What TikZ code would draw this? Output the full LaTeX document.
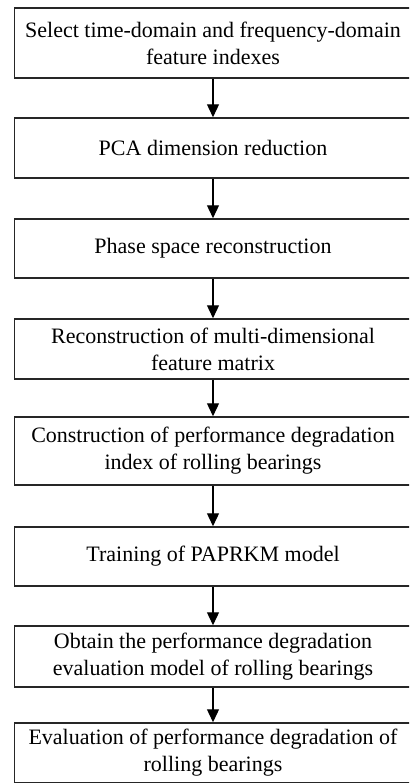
\documentclass[tikz,border=0pt]{standalone}
\usepackage{fontspec}
\setmainfont{Liberation Serif}
\usetikzlibrary{arrows.meta}

\begin{document}
\begin{tikzpicture}[x=0.5pt, y=-0.5pt, thick]
	\tikzstyle{stepbox}=[draw=black!85, line width=0.75pt, minimum width=198.5pt, inner sep=0pt, align=center, font=\fontsize{11}{13.6}\selectfont]
	\tikzstyle{flow}=[-{Triangle[length=6.5pt,width=6pt]}, line width=0.65pt, black]
	\useasboundingbox (0,0) rectangle (409,783);
	\clip (0,0) rectangle (409,783);
	
	\node[stepbox, minimum height=35pt] (Step-1) at (213,43) {Select time-domain and frequency-domain\\feature indexes};
	\node[stepbox, minimum height=30pt] (Step-2) at (213,148) {PCA dimension reduction};
	\node[stepbox, minimum height=29.5pt] (Step-3) at (213,248.5) {Phase space reconstruction};
	\node[stepbox, minimum height=30pt] (Step-4) at (213,349) {Reconstruction of multi-dimensional\\feature matrix};
	\node[stepbox, minimum height=34pt] (Step-5) at (213,451) {Construction of performance degradation\\index of rolling bearings};
	\node[stepbox, minimum height=29.5pt] (Step-6) at (213,556.5) {Training of PAPRKM model};
	\node[stepbox, minimum height=30.5pt] (Step-7) at (213,656.5) {Obtain the performance degradation\\evaluation model of rolling bearings};
	\node[stepbox, minimum height=30pt] (Step-8) at (213,753) {Evaluation of performance degradation of\\rolling bearings};
	
	\draw[flow] (Step-1) -- (Step-2);
	\draw[flow] (Step-2) -- (Step-3);
	\draw[flow] (Step-3) -- (Step-4);
	\draw[flow] (Step-4) -- (Step-5);
	\draw[flow] (Step-5) -- (Step-6);
	\draw[flow] (Step-6) -- (Step-7);
	\draw[flow] (Step-7) -- (Step-8);
\end{tikzpicture}
\end{document}
